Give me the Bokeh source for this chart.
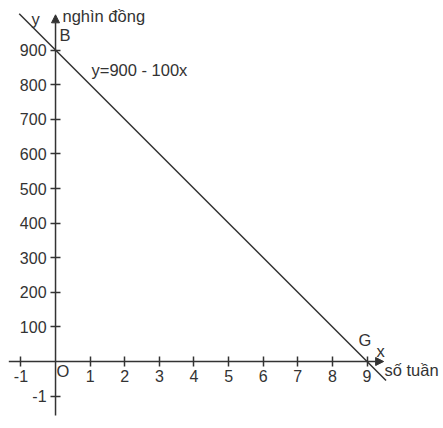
from bokeh.plotting import figure
from bokeh.models import Range1d, LinearAxis, FixedTicker, Arrow, NormalHead, Label
from bokeh.embed import file_html
from bokeh.resources import INLINE

# data
x_ticks = [-1, 1, 2, 3, 4, 5, 6, 7, 8, 9]
y_ticks = [-100, 100, 200, 300, 400, 500, 600, 700, 800, 900]
y_tick_labels = {-100: "-1"}
x_tick_labels = {-1: "-1"}
line_x = [-1.05, 9.55]
line_y = [1005, -55]
equation = "y=900 - 100x"

C = "#333333"
FONT = "Liberation Sans"
W, H = 443, 428

p = figure(width=W, height=H, output_backend="svg", toolbar_location=None,
           x_range=Range1d(-1.59, 11.21), y_range=Range1d(-193.6, 1043.4),
           x_axis_type=None, y_axis_type=None, min_border=0)
p.grid.visible = False
p.outline_line_color = None
p.background_fill_color = "white"

# main line
p.line(line_x, line_y, line_color=C, line_width=1.5)

# axis lines with arrows
head = dict(size=8, fill_color=C, line_color=C)
p.add_layout(Arrow(end=NormalHead(**head), x_start=-1.35, y_start=0, x_end=9.48, y_end=0,
                   line_color=C, line_width=1.5))
p.add_layout(Arrow(end=NormalHead(**head), x_start=0, y_start=-156, x_end=0, y_end=1002,
                   line_color=C, line_width=1.5))

# axes (ticks + labels) fixed at the origin
xa = LinearAxis(ticker=FixedTicker(ticks=x_ticks), fixed_location=0,
                axis_line_color=None, major_tick_in=5, major_tick_out=5,
                major_tick_line_color=C, major_tick_line_width=1.5,
                minor_tick_line_color=None, major_label_overrides=x_tick_labels,
                major_label_text_font=FONT, major_label_text_font_size="16px",
                major_label_text_color=C, major_label_standoff=3)
p.add_layout(xa, "below")
ya = LinearAxis(ticker=FixedTicker(ticks=y_ticks), fixed_location=0,
                axis_line_color=None, major_tick_in=5, major_tick_out=5,
                major_tick_line_color=C, major_tick_line_width=1.5,
                minor_tick_line_color=None, major_label_overrides=y_tick_labels,
                major_label_text_font=FONT, major_label_text_font_size="16px",
                major_label_text_color=C, major_label_standoff=4,
                major_label_orientation="horizontal")
p.add_layout(ya, "left")

def lab(px, py, t, size="16.5px"):
    p.add_layout(Label(x=px, y=H - py, x_units="screen", y_units="screen", text=t,
                       text_font=FONT, text_font_size=size, text_color=C,
                       text_align="left", text_baseline="middle"))

lab(31, 18, "y")
lab(62, 15, "nghìn đồng")
lab(59, 34, "B")
lab(91, 69, equation)
lab(56, 370, "O")
lab(358, 339, "G")
lab(376, 350, "x")
lab(384, 369, "số tuần")

open("out.html", "w").write(file_html(p, INLINE))
